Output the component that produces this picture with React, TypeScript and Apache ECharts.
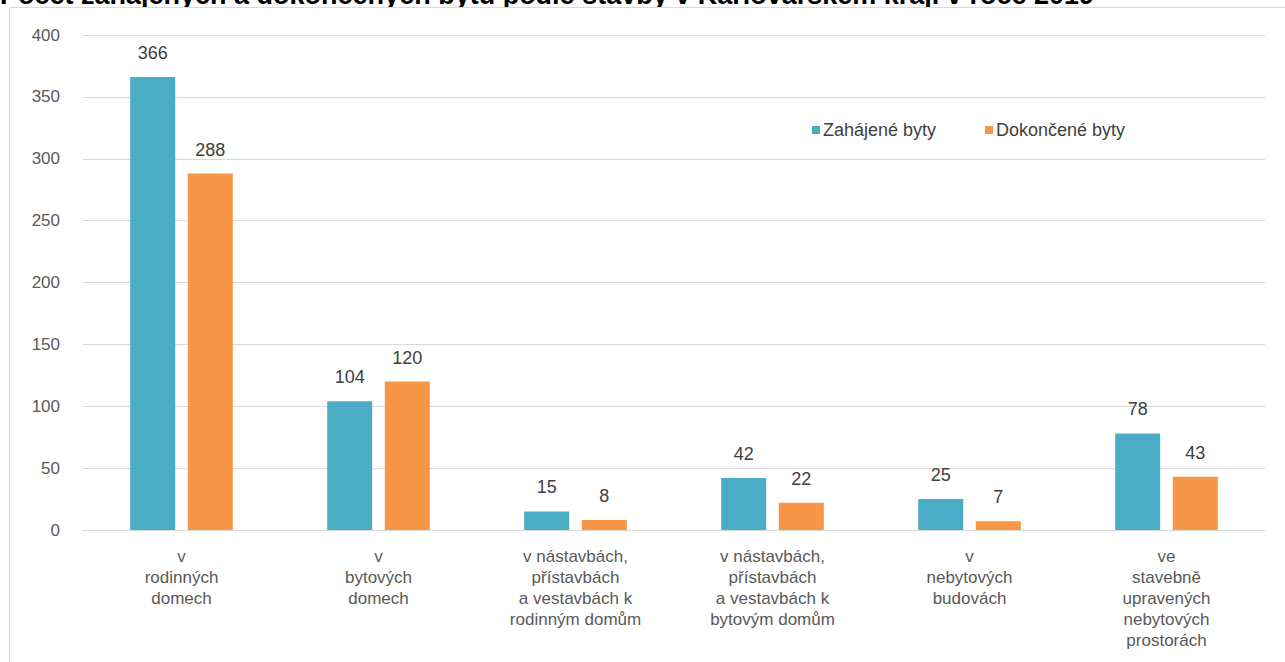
import React, { useEffect, useRef } from "react";
import * as echarts from "echarts";

const TITLE = "Počet zahájených a dokončených bytů podle stavby v Karlovarském kraji v roce 2019";
const categories = [
  "v\nrodinných\ndomech",
  "v\nbytových\ndomech",
  "v nástavbách,\npřístavbách\na vestavbách k\nrodinným domům",
  "v nástavbách,\npřístavbách\na vestavbách k\nbytovým domům",
  "v\nnebytových\nbudovách",
  "ve\nstavebně\nupravených\nnebytových\nprostorách",
];
const seriesNames = ["Zahájené byty", "Dokončené byty"];
const started = [366, 104, 15, 42, 25, 78];
const completed = [288, 120, 8, 22, 7, 43];
const yTicks = { min: 0, max: 400, interval: 50 };

const FONT = "'Liberation Sans', Arial, sans-serif";
const BLUE = "#4BACC6";
const ORANGE = "#F79646";
const TEXT = "#595959";

export default function App() {
  const ref = useRef<HTMLDivElement>(null);
  useEffect(() => {
    if (!ref.current) return;
    const chart = echarts.init(ref.current, undefined, { renderer: "svg" });
    chart.setOption({
      animation: false,
      backgroundColor: "#ffffff",
      textStyle: { fontFamily: FONT },
      graphic: [
        {
          type: "text",
          left: 0,
          top: -19,
          z: -20,
          style: {
            text: TITLE,
            fill: "#000000",
            font: `bold 27px ${FONT}`,
          },
        },
        {
          type: "rect",
          z: -10,
          shape: { x: 9.5, y: 7.5, width: 1300, height: 700 },
          style: { fill: "#ffffff", stroke: "#d9d9d9", lineWidth: 1 },
        },
      ],
      legend: [
        {
          data: [seriesNames[0]],
          left: 807,
          top: 116,
          icon: "rect",
          itemWidth: 8,
          itemHeight: 8,
          itemGap: 4,
          textStyle: { color: "#404040", fontSize: 18, fontFamily: FONT, padding: [0, 0, 0, -2] },
        },
        {
          data: [seriesNames[1]],
          left: 980,
          top: 116,
          icon: "rect",
          itemWidth: 8,
          itemHeight: 8,
          itemGap: 4,
          textStyle: { color: "#404040", fontSize: 18, fontFamily: FONT, padding: [0, 0, 0, -2] },
        },
      ],
      grid: { left: 83, right: 20, top: 35, bottom: 132, containLabel: false },
      xAxis: {
        type: "category",
        data: categories,
        axisLine: { lineStyle: { color: "#d9d9d9" } },
        axisTick: { show: false },
        axisLabel: {
          color: TEXT,
          fontSize: 17,
          lineHeight: 21,
          margin: 16,
          interval: 0,
          fontFamily: FONT,
        },
      },
      yAxis: {
        type: "value",
        min: yTicks.min,
        max: yTicks.max,
        interval: yTicks.interval,
        axisLine: { show: false },
        axisTick: { show: false },
        splitLine: { lineStyle: { color: "#d9d9d9" } },
        axisLabel: { color: TEXT, fontSize: 17, margin: 23, fontFamily: FONT },
      },
      series: [
        {
          name: seriesNames[0],
          type: "bar",
          data: started,
          barWidth: 45,
          barGap: "28%",
          itemStyle: { color: BLUE },
          label: { show: true, position: "top", distance: 15, color: "#404040", fontSize: 18, fontFamily: FONT },
          z: 3,
        },
        {
          name: seriesNames[1],
          type: "bar",
          data: completed,
          barWidth: 45,
          itemStyle: { color: ORANGE },
          label: { show: true, position: "top", distance: 15, color: "#404040", fontSize: 18, fontFamily: FONT },
          z: 3,
        },
      ],
    });
    return () => chart.dispose();
  }, []);
  return (
    <div
      ref={ref}
      style={{ position: "fixed", left: 0, top: 0, width: 1285, height: 662 }}
    />
  );
}
